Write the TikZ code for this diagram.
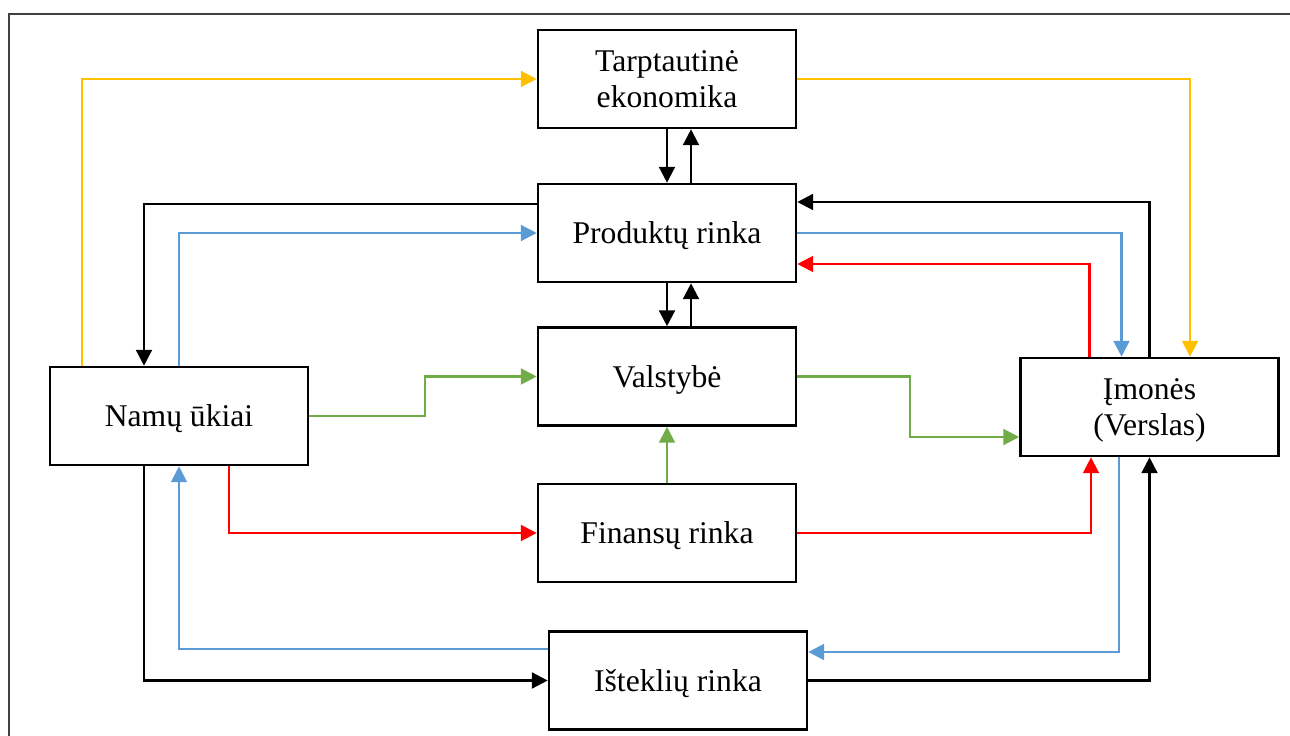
\documentclass[tikz,border=0pt]{standalone}
\usepackage{fontspec}
\setmainfont{Liberation Serif}
\usetikzlibrary{arrows.meta,calc}

\definecolor{flowyellow}{HTML}{FFC000}
\definecolor{flowblue}{HTML}{5B9BD5}
\definecolor{flowgreen}{HTML}{70AD47}
\definecolor{flowred}{HTML}{FF0000}
\definecolor{framegray}{HTML}{404040}

\tikzset{
  sector/.style={draw=black, line width=1.5pt, fill=white, inner sep=0pt,
    minimum width=5.16cm, minimum height=1.96cm, align=center, text depth=0pt,
    font=\fontsize{18}{21}\selectfont},
  flow/.style={line width=1.4pt, -{Triangle[length=9pt,width=9pt]}},
  blackflow/.style={flow, draw=black},
  yellowflow/.style={flow, draw=flowyellow, line width=1.3pt},
  blueflow/.style={flow, draw=flowblue, line width=1.3pt},
  greenflow/.style={flow, draw=flowgreen, line width=1.3pt},
  redflow/.style={flow, draw=flowred, line width=1.3pt},
}

\begin{document}
\begin{tikzpicture}[x=0.02cm, y=-0.02cm]
  \useasboundingbox (0,0) rectangle (1290,736);
  \clip (0,0) rectangle (1290,736);

  % page frame
  \draw[framegray, line width=1.3pt] (9,14) rectangle (1400,900);

  % sectors of the economy
  \node[sector] (tar) at (667,79)    {Tarptautinė\\ekonomika};
  \node[sector] (prod) at (667,233)  {Produktų rinka};
  \node[sector] (val) at (667,376.5) {Valstybė};
  \node[sector] (fin) at (667,533)   {Finansų rinka};
  \node[sector] (ist) at (678,680.5) {Išteklių rinka};
  \node[sector] (nam) at (179,416)   {Namų ūkiai};
  \node[sector] (imo) at (1149.5,407){Įmonės\\(Verslas)};

  % international trade
  \draw[yellowflow] ($(nam.north)+(-97,0)$) |- (tar.west);
  \draw[yellowflow] (tar.east) -| ($(imo.north)+(40.5,0)$);

  % vertical links in the middle column
  \draw[blackflow] (tar.south) -- (prod.north);
  \draw[blackflow] ($(prod.north)+(24,0)$) -- ($(tar.south)+(24,0)$);
  \draw[blackflow] (prod.south) -- (val.north);
  \draw[blackflow] ($(val.north)+(24,0)$) -- ($(prod.south)+(24,0)$);
  \draw[greenflow] (fin.north) -- (val.south);

  % product market
  \draw[blackflow] ($(prod.west)+(0,-29)$) -| ($(nam.north)+(-35,0)$);
  \draw[blueflow] (nam.north) |- (prod.west);
  \draw[blackflow] (imo.north) |- ($(prod.east)+(0,-31)$);
  \draw[blueflow] (prod.east) -| ($(imo.north)+(-28,0)$);
  \draw[redflow] ($(imo.north)+(-60,0)$) |- ($(prod.east)+(0,31)$);

  % government
  \draw[greenflow] (nam.east) -- ++(116,0) |- (val.west);
  \draw[greenflow] (val.east) -- ++(113,0) |- ($(imo.west)+(0,30)$);

  % financial market
  \draw[redflow] ($(nam.south)+(50,0)$) |- (fin.west);
  \draw[redflow] (fin.east) -| ($(imo.south)+(-58.5,0)$);

  % resource market
  \draw[blueflow] ($(imo.south)+(-30.5,0)$) |- ($(ist.east)+(0,-28.5)$);
  \draw[blueflow] ($(ist.west)+(0,-31.5)$) -| (nam.south);
  \draw[blackflow] ($(nam.south)+(-35,0)$) |- (ist.west);
  \draw[blackflow] (ist.east) -| (imo.south);
\end{tikzpicture}
\end{document}
